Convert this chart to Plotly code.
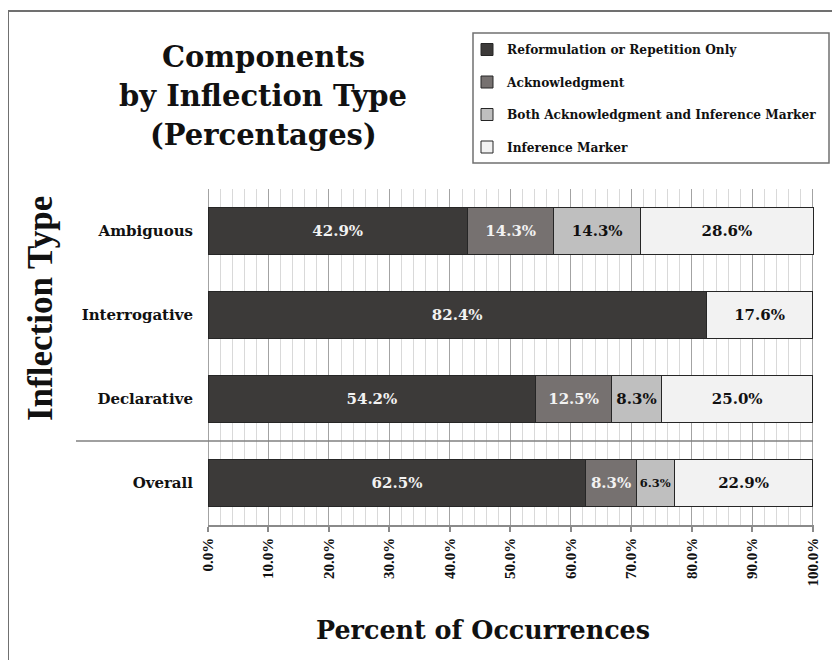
import plotly.graph_objects as go

# ---------------- data ----------------
categories = ["Ambiguous", "Interrogative", "Declarative", "Overall"]
series_names = [
    "Reformulation or Repetition Only",
    "Acknowledgment",
    "Both Acknowledgment and Inference Marker",
    "Inference Marker",
]
reformulation = [42.9, 82.4, 54.2, 62.5]
acknowledgment = [14.3, 0.0, 12.5, 8.3]
both_ack_inf = [14.3, 0.0, 8.3, 6.3]
inference = [28.6, 17.6, 25.0, 22.9]
x_ticks = [0, 10, 20, 30, 40, 50, 60, 70, 80, 90, 100]

# ---------------- geometry (page pixels; body margin offset 8px) ----------------
W, H = 840, 660
OFF = 8
PL, PR, PT, PB = 208, 814, 189, 525          # plot area on the page
L, R, T, B = PL - OFF, W - (PR - OFF), PT - OFF, H - (PB - OFF)
PW, PH = W - L - R, H - T - B


def px(xp):
    return (xp - OFF - L) / PW


def py(yp):
    return (H - B - (yp - OFF)) / PH


SERIF_H = "DejaVu Serif"
SERIF_V = "Liberation Serif"
colors = ["#3c3a39", "#767170", "#bfbfbf", "#f2f2f2"]
text_colors = ["#f2f2f2", "#f2f2f2", "#111111", "#111111"]
all_values = [reformulation, acknowledgment, both_ack_inf, inference]

fig = go.Figure()
for i, (name, vals) in enumerate(zip(series_names, all_values)):
    labels = [f"{v:.1f}%" if v > 0 else "" for v in vals]
    sizes = [11.5 if (v > 0 and v < 8) else 15 for v in vals]
    fig.add_trace(go.Bar(
        y=categories, x=vals, name=name, orientation="h",
        marker=dict(color=colors[i], line=dict(color="#262626", width=1)),
        text=labels, textposition="inside", insidetextanchor="middle",
        textangle=0, constraintext="none",
        textfont=dict(family=SERIF_H, size=sizes, color=text_colors[i], weight="bold"),
        legendgroup=f"g{i}", hoverinfo="skip",
    ))

fig.update_layout(
    width=W, height=H,
    margin=dict(l=L, r=R, t=T, b=B, autoexpand=False),
    paper_bgcolor="white", plot_bgcolor="white",
    barmode="stack", bargap=0.43,
    showlegend=True,
    legend=dict(
        x=px(467), y=py(35), xanchor="left", yanchor="top",
        bgcolor="rgba(0,0,0,0)", borderwidth=0,
        font=dict(family=SERIF_H, size=12.2, color="#111111", weight="bold"),
        traceorder="grouped", tracegroupgap=13.5,
    ),
    xaxis=dict(
        range=[0, 100.2], tickvals=x_ticks,
        ticktext=[f"{v:.1f}%" for v in x_ticks],
        tickangle=-90,
        tickfont=dict(family=SERIF_V, size=15, color="#111111", weight="bold"),
        showgrid=True, gridcolor="#a3a3a3", gridwidth=1,
        zeroline=True, zerolinecolor="#a3a3a3", zerolinewidth=1,
        minor=dict(dtick=2, showgrid=True, gridcolor="#d9d9d9", gridwidth=1),
        showline=True, linecolor="#8a8a8a", linewidth=1.5,
        ticks="outside", ticklen=5, tickcolor="#8a8a8a", tickwidth=1.5,
        fixedrange=True,
    ),
    yaxis=dict(
        categoryorder="array", categoryarray=categories,
        range=[3.5, -0.5],
        tickfont=dict(family=SERIF_H, size=15, color="#111111", weight="bold"),
        showgrid=False, zeroline=False, showline=False,
        ticks="", ticklabelstandoff=14,
        fixedrange=True,
    ),
)

# titles
title_lines = ["Components", "by Inflection Type", "(Percentages)"]
title_y = [57, 96, 135]
for txt, yy in zip(title_lines, title_y):
    fig.add_annotation(text=txt, xref="paper", yref="paper", x=px(263), y=py(yy),
                       xanchor="center", yanchor="middle", showarrow=False,
                       font=dict(family=SERIF_H, size=29, color="#111111", weight="bold"))

fig.add_annotation(text="Inflection Type", xref="paper", yref="paper", x=px(40), y=py(308),
                   xanchor="center", yanchor="middle", textangle=-90, showarrow=False,
                   font=dict(family=SERIF_V, size=35, color="#111111", weight="bold"))
fig.add_annotation(text="Percent of Occurrences", xref="paper", yref="paper", x=px(483), y=py(630),
                   xanchor="center", yanchor="middle", showarrow=False,
                   font=dict(family=SERIF_H, size=25.4, color="#111111", weight="bold"))

# separator between groups and overall
fig.add_shape(type="line", xref="paper", yref="y", x0=px(76), x1=px(813), y0=2.5, y1=2.5,
              line=dict(color="#808080", width=1.5), layer="above")
# legend box
fig.add_shape(type="rect", xref="paper", yref="paper", x0=px(473), x1=px(829),
              y0=py(163), y1=py(33), line=dict(color="#707070", width=1.5))
# outer chart border (top and left visible)
fig.add_shape(type="line", xref="paper", yref="paper", x0=px(8), x1=px(850), y0=py(11), y1=py(11),
              line=dict(color="#707070", width=2))
fig.add_shape(type="line", xref="paper", yref="paper", x0=px(8), x1=px(8), y0=py(11), y1=py(670),
              line=dict(color="#707070", width=2))

fig.write_html("out.html")
